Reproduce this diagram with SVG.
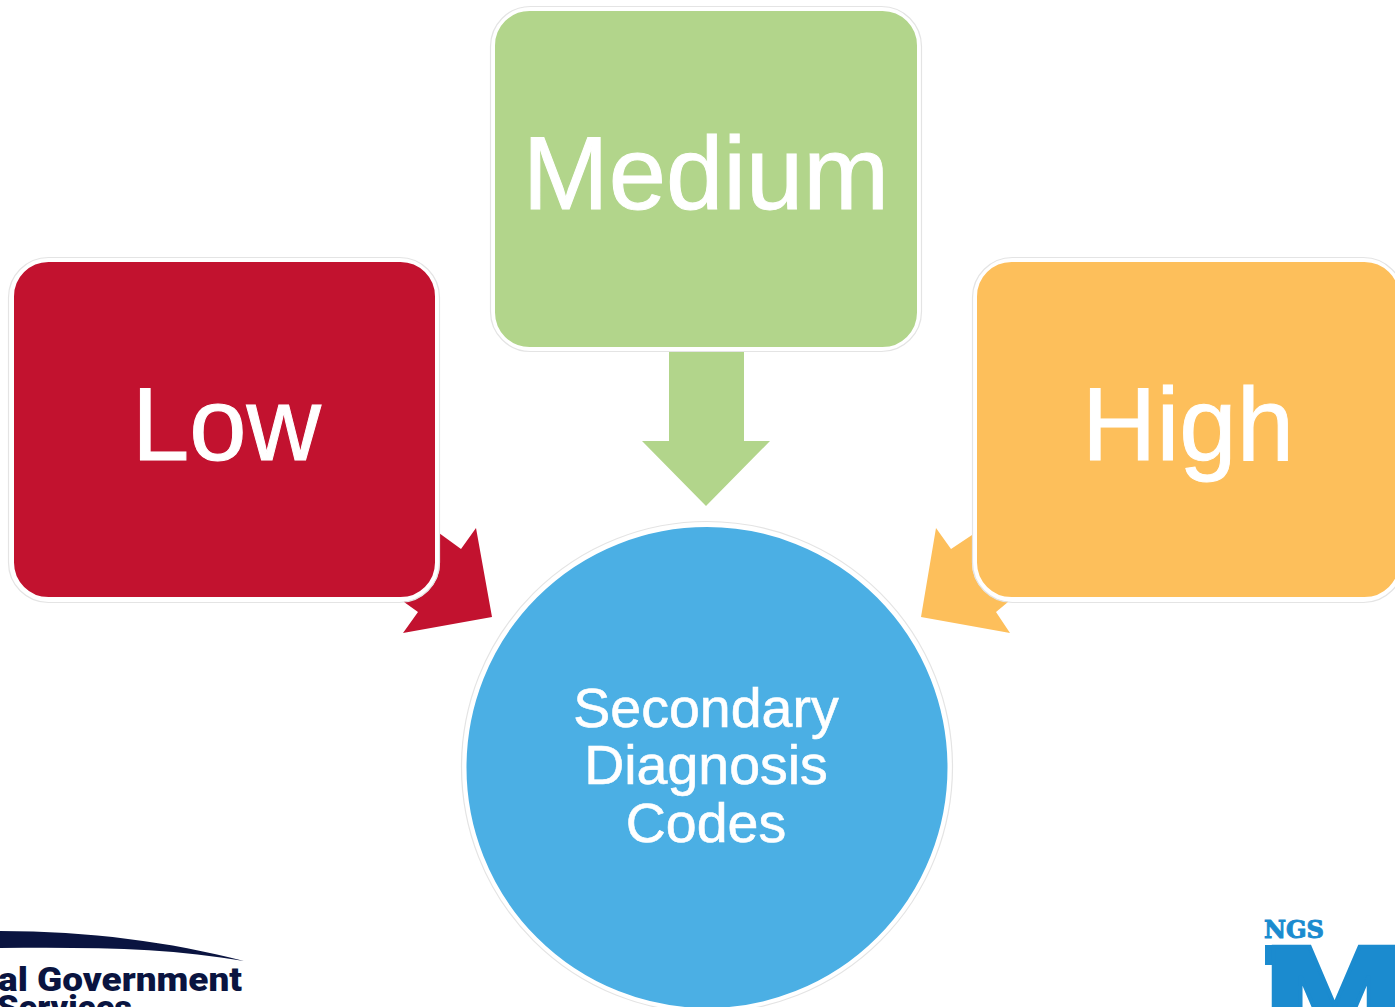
<svg xmlns="http://www.w3.org/2000/svg" width="1395" height="1007" viewBox="0 0 1395 1007">
<style>
.box{stroke:#fff;stroke-width:5}
.halo{fill:none;stroke:#e4e4e4;stroke-width:1.2}
.lbl{font-family:"Liberation Sans",Arial,sans-serif;fill:#fff;stroke:#fff;text-anchor:middle}
.big{font-size:103px;stroke-width:1}
.small{font-size:55.5px;stroke-width:.6}
.logo{font-family:Roboto,"Liberation Sans",sans-serif;font-weight:900;fill:#0a1440;font-size:33px}
</style>
<rect width="1395" height="1007" fill="#fff"/>
<g id="connectors">
<polygon points="669,352 744,352 744,441 770,441 706,506 642,441 669,441" fill="#b2d58b"/>
<polygon points="439,533 461,549 476,528 492,617 403,633 418,612 404,602" fill="#c2122f"/>
<polygon points="972,535 951,549 936,528 921,617 1010,633 996,612 1008,602" fill="#fdbf5b"/>
</g>
<g id="node-low">
<rect class="box" x="11.500" y="259.500" width="426" height="340" rx="37" fill="#c2122f"/>
<rect class="halo" x="8.500" y="257.500" width="431" height="345" rx="40"/>
<text class="lbl big" x="226.500" y="460">Low</text>
</g>
<g id="node-medium">
<rect class="box" x="492.500" y="8.500" width="427" height="341" rx="37" fill="#b2d58b"/>
<rect class="halo" x="490.500" y="6.500" width="431" height="345" rx="40"/>
<text class="lbl big" x="706" y="209">Medium</text>
</g>
<g id="node-high">
<rect class="box" x="974.500" y="259.500" width="427" height="340" rx="37" fill="#fdbf5b"/>
<rect class="halo" x="972.500" y="257.500" width="431" height="345" rx="40"/>
<text class="lbl big" x="1188" y="460">High</text>
</g>
<g id="node-codes">
<circle class="box" cx="707" cy="767.500" r="243" fill="#4bafe4"/>
<circle class="halo" cx="707" cy="767" r="245.500"/>
<text class="lbl small" x="706" y="727">Secondary</text>
<text class="lbl small" x="706" y="784">Diagnosis</text>
<text class="lbl small" x="706" y="842">Codes</text>
</g>
<g id="logo-left">
<path d="M0,931 C90,931 170,942 244,961 C170,948 90,947 0,948 Z" fill="#0a1440"/>
<text class="logo" x="-2" y="991" textLength="244" lengthAdjust="spacingAndGlyphs">al Government</text>
<text class="logo" x="-3" y="1019" textLength="135" lengthAdjust="spacingAndGlyphs">Services</text>
</g>
<g id="logo-right" fill="#1b8bcf">
<text x="1264" y="938" font-size="25" font-family="'DejaVu Serif',serif" font-weight="bold" stroke="#1b8bcf" stroke-width="1" textLength="60" lengthAdjust="spacingAndGlyphs">NGS</text>
<rect x="1265" y="945" width="40" height="20"/>
<text x="1260" y="1056" font-size="150" font-family="'DejaVu Sans',sans-serif" font-weight="bold" stroke="#1b8bcf" stroke-width="4">M</text>
</g>
</svg>
